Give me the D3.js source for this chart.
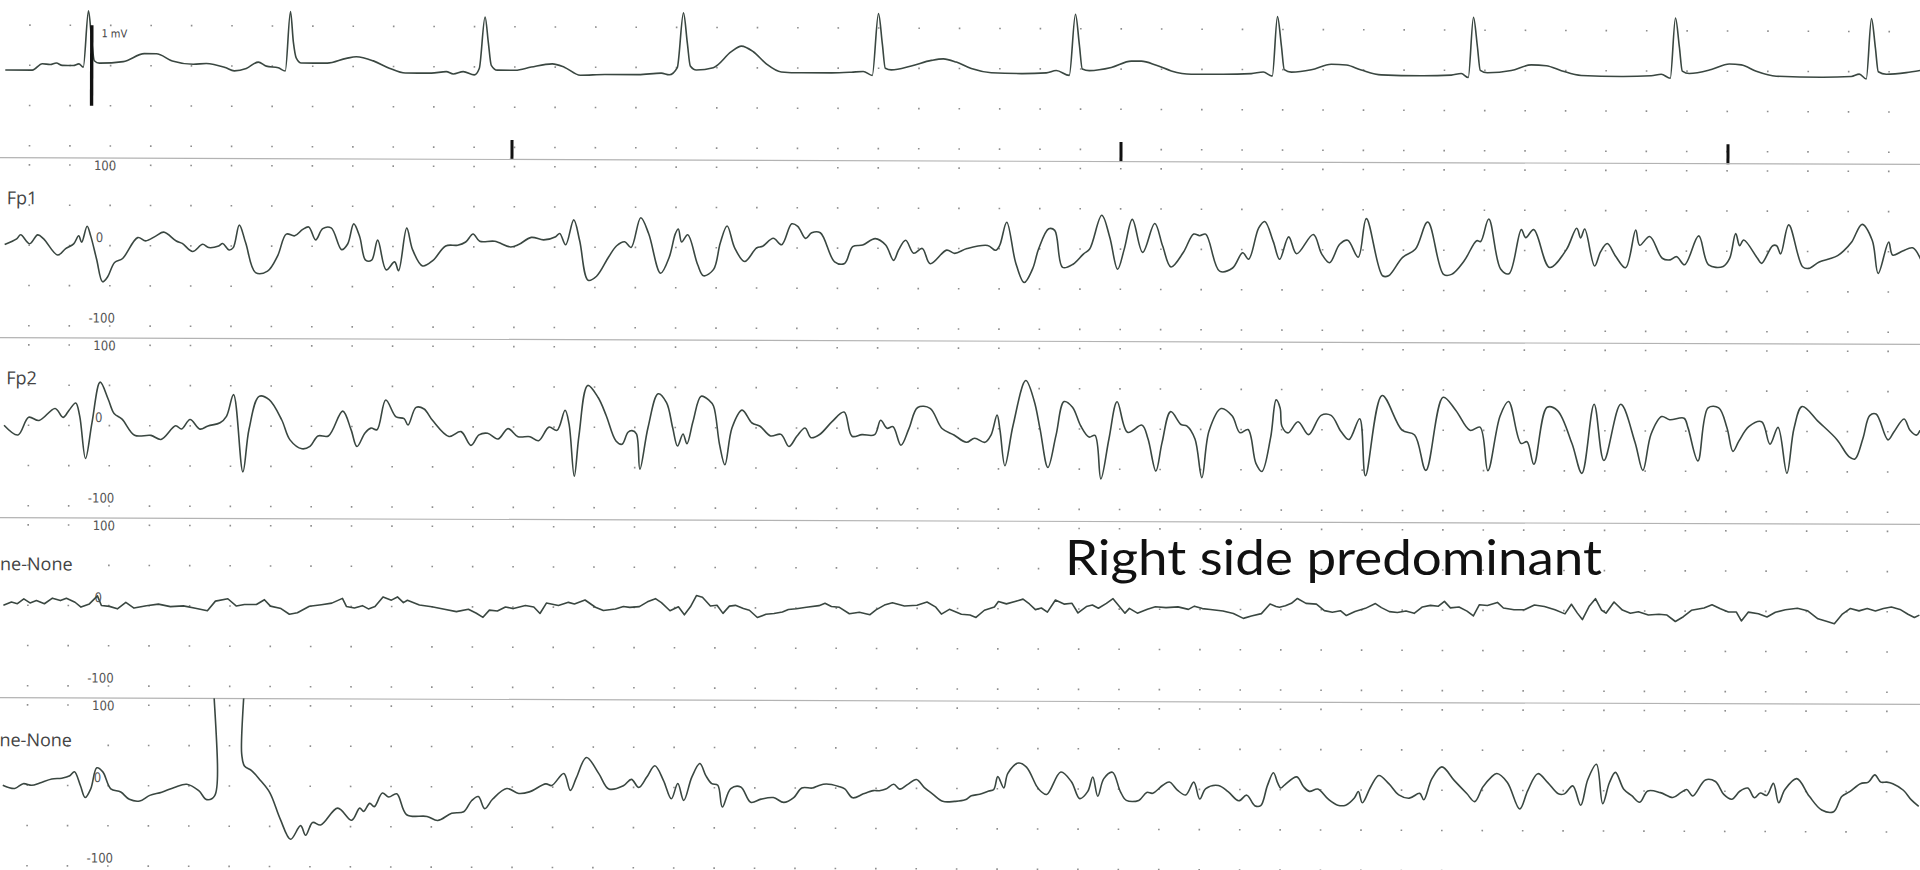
<!DOCTYPE html>
<html><head><meta charset="utf-8">
<script src="https://cdn.jsdelivr.net/npm/d3@7"></script>
<style>
html,body{margin:0;padding:0;background:#fff;overflow:hidden}
svg{display:block}
</style></head><body>
<svg id="chart" width="1920" height="870"></svg>
<script>
// ---- Recorded traces: [time in ms, amplitude] ----
// ECG in mV
const ecgTrace = [[20,-0.06],[155,-0.06],[205,0.02],[245,0.01],[275,0.03],[305,0.0],[360,0.0],[388,0.02],[410,-0.02],[435,0.68],[452,0.3],[465,0.06],[490,0.03],[610,0.05],[715,0.15],[775,0.15],[855,0.06],[960,0.02],[1025,0.03],[1120,-0.02],[1165,-0.06],[1225,-0.03],[1285,0.05],[1325,0.0],[1385,-0.02],[1420,-0.06],[1445,0.68],[1460,0.3],[1475,0.1],[1500,0.04],[1630,0.04],[1725,0.1],[1775,0.12],[1860,0.07],[1940,-0.02],[2020,-0.08],[2150,-0.08],[2225,-0.06],[2260,-0.09],[2310,-0.06],[2365,-0.1],[2390,-0.02],[2418,0.62],[2435,0.3],[2450,0.02],[2480,-0.04],[2570,-0.04],[2650,0.0],[2755,0.04],[2815,0.0],[2895,-0.1],[3020,-0.09],[3185,-0.09],[3300,-0.07],[3340,-0.09],[3380,0.0],[3410,0.68],[3430,0.3],[3445,0.02],[3475,-0.03],[3560,0.0],[3650,0.2],[3700,0.27],[3760,0.2],[3825,0.05],[3900,-0.05],[4000,-0.06],[4150,-0.06],[4250,-0.05],[4310,-0.04],[4355,-0.09],[4385,0.68],[4405,0.3],[4420,0.0],[4450,-0.02],[4550,0.03],[4650,0.1],[4710,0.12],[4775,0.08],[4850,0.0],[4950,-0.05],[5100,-0.06],[5225,-0.05],[5275,-0.02],[5340,-0.08],[5370,0.68],[5390,0.3],[5405,0.0],[5440,-0.02],[5550,0.02],[5650,0.1],[5700,0.1],[5775,0.05],[5850,-0.02],[5950,-0.06],[6100,-0.06],[6250,-0.05],[6310,-0.03],[6355,-0.08],[6380,0.66],[6400,0.3],[6415,0.0],[6450,-0.03],[6550,0.0],[6650,0.07],[6725,0.06],[6800,0.0],[6900,-0.06],[7100,-0.07],[7250,-0.06],[7300,-0.04],[7335,-0.09],[7360,0.66],[7380,0.3],[7395,0.0],[7430,-0.03],[7550,0.0],[7650,0.07],[7725,0.06],[7800,0.0],[7900,-0.06],[8100,-0.07],[8250,-0.06],[8300,-0.04],[8345,-0.09],[8370,0.66],[8390,0.3],[8405,0.0],[8440,-0.03],[8550,0.02],[8640,0.09],[8700,0.08],[8775,0.0],[8875,-0.06],[9100,-0.07],[9250,-0.06],[9290,-0.03],[9325,-0.09],[9350,0.66],[9370,0.3],[9385,0.0],[9425,-0.03],[9525,-0.01],[9600,0.02]];

// EEG channels in microvolts
const fp1Trace = [[20,1],[80,8],[100,13],[145,2],[185,13],[215,8],[285,-12],[325,-4],[365,2],[390,12],[405,4],[432,24],[450,12],[480,-17],[510,-45],[535,-39],[570,-21],[610,-16],[685,10],[725,6],[775,12],[815,17],[878,6],[908,3],[960,-7],[1010,2],[1040,-2],[1090,0],[1110,3],[1142,-5],[1163,-2],[1193,26],[1225,4],[1275,-33],[1335,-31],[1385,-12],[1428,15],[1470,13],[1510,21],[1540,24],[1575,8],[1610,22],[1652,23],[1705,-4],[1735,3],[1765,28],[1795,12],[1825,-17],[1855,-17],[1885,8],[1928,-29],[1970,-19],[1990,-30],[2030,23],[2060,-4],[2110,-24],[2162,-17],[2225,1],[2285,2],[2325,6],[2362,16],[2395,7],[2470,7],[2550,0],[2590,3],[2653,12],[2715,9],[2775,13],[2795,17],[2825,3],[2865,34],[2895,8],[2938,-41],[2980,-36],[3040,-12],[3080,2],[3120,7],[3152,0],[3200,37],[3240,17],[3300,-32],[3343,-12],[3373,17],[3388,23],[3405,7],[3435,16],[3485,-21],[3515,-35],[3565,-27],[3598,6],[3632,27],[3670,0],[3720,-17],[3780,0],[3810,2],[3863,12],[3905,4],[3955,30],[3985,27],[4025,12],[4055,19],[4098,19],[4170,-17],[4220,-19],[4260,2],[4310,4],[4373,12],[4425,4],[4465,-15],[4490,-2],[4525,10],[4565,-6],[4608,0],[4648,-19],[4730,-2],[4770,-6],[4832,0],[4935,4],[4975,-2],[4995,4],[5030,33],[5075,-17],[5118,-42],[5160,-25],[5190,0],[5240,25],[5270,23],[5310,-23],[5362,-19],[5415,-6],[5445,0],[5505,42],[5545,15],[5585,-25],[5618,0],[5658,37],[5710,-4],[5770,32],[5810,4],[5852,-22],[5913,-4],[5965,19],[5995,17],[6025,19],[6095,-27],[6160,-23],[6210,-4],[6240,-12],[6290,27],[6320,35],[6363,10],[6395,-12],[6440,16],[6480,-5],[6563,19],[6605,-5],[6645,-16],[6695,7],[6735,12],[6788,-9],[6828,39],[6910,-32],[6940,-32],[7010,-9],[7073,1],[7135,35],[7215,-30],[7255,-30],[7318,-13],[7380,12],[7400,11],[7440,39],[7500,-23],[7542,-29],[7603,26],[7625,16],[7665,26],[7745,-21],[7828,1],[7880,28],[7900,16],[7920,27],[7970,-19],[8000,-1],[8033,9],[8073,-6],[8125,-21],[8175,26],[8195,7],[8245,18],[8308,-9],[8348,-11],[8380,-7],[8420,-17],[8490,19],[8540,-17],[8613,-19],[8645,-9],[8675,22],[8695,7],[8715,14],[8785,-9],[8805,-15],[8860,7],[8880,7],[8900,-3],[8940,33],[9010,-19],[9040,-21],[9093,-13],[9145,-9],[9185,-5],[9215,1],[9255,12],[9307,34],[9358,14],[9388,-27],[9440,12],[9460,-4],[9510,1],[9560,5],[9600,-9]];

const fp2Trace = [[20,0],[90,-12],[143,10],[195,6],[275,21],[315,10],[345,19],[378,28],[398,12],[428,-41],[460,4],[500,54],[540,33],[570,15],[610,8],[673,-12],[755,-12],[805,-17],[878,0],[908,-4],[950,8],[1000,-4],[1040,0],[1100,4],[1132,12],[1167,39],[1215,-57],[1245,-4],[1295,37],[1345,33],[1408,8],[1450,-17],[1510,-28],[1550,-25],[1590,-12],[1642,-12],[1713,19],[1755,-4],[1785,-25],[1825,-8],[1855,-2],[1885,-4],[1928,33],[1980,12],[2020,10],[2040,2],[2080,24],[2120,22],[2162,8],[2245,-12],[2305,-6],[2355,-23],[2395,-10],[2438,-8],[2490,-15],[2540,-2],[2590,-12],[2650,-12],[2693,-17],[2745,0],[2785,-4],[2825,21],[2845,4],[2872,-61],[2895,-10],[2938,52],[2990,37],[3030,15],[3080,-17],[3110,-21],[3140,-6],[3160,-4],[3182,-8],[3200,-52],[3240,0],[3290,42],[3332,31],[3363,0],[3388,-23],[3415,-8],[3435,-20],[3465,8],[3505,39],[3545,34],[3567,27],[3598,-21],[3625,-46],[3660,0],[3710,22],[3760,6],[3800,2],[3853,-10],[3905,-8],[3945,-23],[3985,-10],[4025,0],[4055,-12],[4098,-8],[4160,8],[4220,20],[4260,-10],[4310,-8],[4373,-8],[4403,10],[4435,0],[4465,2],[4505,-21],[4545,0],[4588,26],[4650,25],[4710,0],[4770,-8],[4832,-17],[4873,-12],[4925,-17],[4955,-8],[4985,17],[5000,-2],[5025,-46],[5065,4],[5128,60],[5170,35],[5200,0],[5240,-48],[5280,-8],[5320,34],[5362,27],[5403,4],[5445,-10],[5475,-8],[5505,-62],[5545,-12],[5585,34],[5638,-4],[5710,5],[5740,-12],[5780,-52],[5810,-17],[5853,22],[5905,6],[5935,4],[5975,-12],[6010,-60],[6045,-2],[6105,26],[6160,17],[6200,-4],[6240,0],[6280,-42],[6310,-52],[6353,-10],[6380,37],[6400,27],[6410,4],[6440,-4],[6490,10],[6543,-6],[6605,18],[6655,18],[6705,-2],[6745,-12],[6798,14],[6828,-57],[6910,43],[7010,0],[7073,-6],[7130,-50],[7215,41],[7278,25],[7350,0],[7400,4],[7440,-50],[7500,18],[7542,36],[7605,-16],[7635,-14],[7670,-42],[7735,29],[7787,25],[7860,-16],[7910,-53],[7970,33],[8020,-37],[8103,33],[8175,-14],[8215,-49],[8255,-4],[8308,18],[8348,14],[8420,16],[8440,4],[8490,-37],[8540,29],[8593,29],[8635,4],[8665,-25],[8695,-12],[8745,6],[8808,12],[8850,-16],[8890,5],[8935,-52],[8970,4],[9010,31],[9093,12],[9185,-10],[9245,-31],[9275,-34],[9315,-8],[9348,20],[9380,22],[9440,-10],[9470,0],[9520,16],[9550,2],[9582,-4],[9600,2]];

const ch4Trace = [[20,0],[60,4],[90,2],[122,8],[153,3],[185,6],[225,2],[265,9],[305,6],[335,9],[378,4],[408,-2],[450,2],[490,12],[510,0],[550,-1],[590,-4],[632,4],[673,-3],[735,0],[795,2],[855,-1],[920,0],[980,-3],[1040,-6],[1080,6],[1142,9],[1185,0],[1225,2],[1285,2],[1325,8],[1355,0],[1408,-3],[1450,-10],[1490,-8],[1550,0],[1610,2],[1662,4],[1715,10],[1735,0],[1775,-2],[1815,1],[1845,-3],[1878,0],[1918,12],[1960,8],[1990,12],[2020,5],[2040,8],[2100,2],[2162,0],[2225,-3],[2285,-6],[2345,-3],[2385,-8],[2418,-13],[2450,-4],[2490,-5],[2530,0],[2570,-2],[2630,2],[2672,0],[2703,-8],[2735,5],[2795,2],[2845,6],[2875,4],[2928,9],[2980,0],[3020,-4],[3080,-2],[3120,1],[3152,0],[3200,1],[3240,7],[3280,11],[3310,6],[3353,-4],[3395,1],[3425,-9],[3455,1],[3485,15],[3515,13],[3555,2],[3588,3],[3618,-7],[3650,2],[3680,3],[3720,-1],[3750,-3],[3790,-12],[3833,-8],[3873,-7],[3915,-5],[3945,-2],[3985,-1],[4035,1],[4098,3],[4128,6],[4160,2],[4200,1],[4250,-7],[4300,-5],[4353,-8],[4383,-2],[4425,4],[4465,7],[4525,3],[4588,4],[4638,8],[4680,2],[4710,-7],[4750,-1],[4810,-7],[4853,-8],[4883,-11],[4925,-2],[4975,2],[4995,9],[5035,6],[5078,9],[5118,12],[5150,6],[5180,-1],[5210,1],[5240,-4],[5280,11],[5323,6],[5363,7],[5393,-5],[5435,3],[5465,5],[5495,1],[5535,7],[5568,13],[5598,4],[5628,-5],[5650,1],[5690,-5],[5740,0],[5780,3],[5833,2],[5893,3],[5945,0],[5975,4],[6015,1],[6055,0],[6118,-2],[6170,-5],[6220,-11],[6260,-8],[6310,-5],[6353,7],[6383,4],[6400,3],[6430,5],[6460,8],[6490,14],[6533,8],[6585,7],[6625,-1],[6665,-3],[6705,-1],[6735,-7],[6778,-2],[6830,2],[6880,8],[6910,3],[6950,-2],[6990,-3],[7033,-1],[7074,-4],[7115,4],[7155,6],[7195,5],[7225,11],[7255,3],[7298,4],[7338,-1],[7370,-7],[7400,7],[7440,6],[7490,10],[7520,3],[7573,1],[7625,1],[7675,7],[7725,5],[7778,1],[7828,-4],[7860,8],[7890,-3],[7915,-11],[7950,6],[7980,15],[8010,1],[8033,-3],[8073,11],[8115,1],[8155,-3],[8195,-1],[8245,-5],[8298,-4],[8338,-5],[8380,-13],[8420,-7],[8460,1],[8523,4],[8563,8],[8605,3],[8645,-1],[8685,-1],[8710,-12],[8745,-1],[8795,-3],[8838,-7],[8880,-1],[8930,2],[8990,4],[9040,1],[9093,-9],[9135,-12],[9175,-15],[9215,-3],[9255,4],[9298,1],[9339,4],[9380,1],[9420,4],[9460,6],[9503,3],[9543,-3],[9575,-7],[9600,-4]];

const ch5Trace = [[20,0],[80,-4],[122,2],[165,0],[205,3],[265,8],[315,9],[355,12],[378,17],[408,0],[432,-15],[460,-4],[490,22],[520,17],[560,-4],[610,-8],[653,-17],[705,-19],[755,-12],[815,-8],[878,-2],[940,2],[1000,-6],[1040,-17],[1080,-12],[1092,240],[1202,240],[1214,40],[1228,25],[1265,19],[1305,8],[1355,-8],[1408,-41],[1460,-66],[1510,-49],[1535,-61],[1570,-45],[1610,-48],[1695,-27],[1765,-42],[1805,-27],[1825,-31],[1855,-21],[1878,-25],[1918,-8],[1950,-13],[1990,-9],[2040,-35],[2142,-37],[2195,-42],[2265,-33],[2325,-31],[2365,-17],[2398,-12],[2430,-27],[2470,-15],[2540,-2],[2600,-8],[2653,-6],[2735,4],[2765,2],[2825,17],[2858,-4],[2888,12],[2938,37],[3000,17],[3050,-2],[3123,2],[3163,10],[3200,0],[3240,13],[3280,27],[3323,9],[3363,-14],[3395,5],[3425,-16],[3465,13],[3505,30],[3535,15],[3565,5],[3595,3],[3618,-24],[3660,-1],[3710,1],[3760,-18],[3812,-14],[3873,-12],[3925,-18],[3975,-12],[4015,0],[4068,0],[4098,3],[4138,5],[4200,2],[4230,-1],[4270,-12],[4323,-7],[4373,-3],[4403,-3],[4435,-1],[4475,5],[4505,-1],[4545,5],[4588,11],[4628,1],[4670,-7],[4720,-16],[4780,-16],[4832,-14],[4863,-9],[4905,-7],[4950,-3],[4975,-1],[4995,15],[5025,1],[5045,19],[5098,32],[5138,27],[5190,3],[5210,-3],[5240,-7],[5310,21],[5363,9],[5405,-12],[5445,-3],[5470,15],[5495,-9],[5525,13],[5568,21],[5608,-3],[5638,-14],[5700,-14],[5740,-4],[5770,-5],[5820,5],[5853,9],[5893,-1],[5935,-7],[5975,9],[6005,-12],[6035,1],[6098,5],[6148,-3],[6200,-14],[6240,-7],[6280,-20],[6310,-20],[6343,5],[6373,21],[6395,8],[6410,2],[6430,6],[6490,16],[6523,4],[6553,-2],[6595,1],[6645,-11],[6695,-19],[6735,-19],[6778,-10],[6798,-2],[6818,-16],[6860,4],[6900,18],[6950,8],[7000,-6],[7053,-10],[7105,-4],[7125,-12],[7165,14],[7215,29],[7278,12],[7340,-4],[7380,-14],[7420,4],[7460,16],[7490,21],[7543,10],[7605,-23],[7645,0],[7695,21],[7745,10],[7798,-4],[7828,-4],[7870,6],[7910,-18],[7945,14],[7988,33],[8020,-16],[8053,10],[8083,23],[8125,2],[8165,-6],[8205,-14],[8245,0],[8308,-2],[8370,-8],[8410,-2],[8440,2],[8470,-6],[8533,14],[8583,12],[8625,-4],[8665,-10],[8705,0],[8745,4],[8778,-8],[8808,-2],[8840,-5],[8873,10],[8900,-14],[8930,2],[8990,16],[9053,-6],[9115,-23],[9175,-25],[9215,-6],[9255,0],[9308,10],[9348,12],[9380,21],[9410,12],[9440,12],[9470,10],[9523,2],[9563,-10],[9600,-18]];

// Channel labels and scale annotations
const channelNames = ["", "Fp1", "Fp2", "ne-None", "ne-None"];
const scaleTicks = [100, 0, -100];
const markerTimes = [2555, 5600, 8635];
const calibrationMv = [0.5, -0.5];
const note = "Right side predominant";

// ---- Layout ----
const W = 1920, H = 870;
const trackTops = [-24.8, 155.2, 335.2, 515.2, 695.2];
const nameOffsets = [0, 49, 49, 55, 51];
const trackH = 180, halfSpan = 80.4;
const traceColor = "#3a4741";
const tickFont = "'Liberation Sans Narrow','DejaVu Sans Condensed','Liberation Sans',Arial,sans-serif";
const nameFont = "'Open Sans','Noto Sans',sans-serif";

const svg = d3.select("#chart");
svg.append("rect").attr("width", W).attr("height", H).attr("fill", "#fff");

const x = d3.scaleLinear().domain([0, 9600]).range([0, W]);
const page = svg.append("g").attr("transform", "rotate(0.2,0,435)");

const tracks = [
  {data: ecgTrace, domain: [-1, 1], curve: d3.curveMonotoneX},
  {data: fp1Trace, domain: [-100, 100], curve: d3.curveCatmullRom.alpha(0.5)},
  {data: fp2Trace, domain: [-100, 100], curve: d3.curveCatmullRom.alpha(0.5)},
  {data: ch4Trace, domain: [-100, 100], curve: d3.curveLinear},
  {data: ch5Trace, domain: [-100, 100], curve: d3.curveCatmullRom.alpha(0.5)}
];

const gridMs = d3.range(142.5, 9600, 202.1);

tracks.forEach((tr, i) => {
  const top = trackTops[i];
  const zero = top + 90;
  const y = d3.scaleLinear().domain(tr.domain).range([zero + halfSpan, zero - halfSpan]);
  const g = page.append("g");

  // separator line at the top of each track
  if (i > 0) {
    g.append("line").attr("x1", -10).attr("x2", W + 10)
      .attr("y1", top + 2.5).attr("y2", top + 2.5)
      .attr("stroke", "#b3b3b3").attr("stroke-width", 1.2);
  }

  // dotted grid
  const rows = y.ticks(4);
  const dots = [];
  rows.forEach(v => gridMs.forEach(t => dots.push([t, v])));
  g.append("g").selectAll("rect").data(dots).join("rect")
    .attr("x", d => x(d[0]) - 0.8).attr("y", d => y(d[1]) - 0.8)
    .attr("width", 1.6).attr("height", 1.6).attr("fill", "#8d8d8d");

  // scale annotations (EEG tracks)
  if (i > 0) {
    const ann = g.append("g").attr("font-family", tickFont).attr("font-size", 13).attr("fill", "#555");
    scaleTicks.forEach(v => {
      ann.append("text")
        .attr("x", v < 0 ? 88 : (v === 0 ? 95 : 93))
        .attr("y", v > 0 ? y(v) + 5 : y(v) - 3.5)
        .text(v);
    });
    const nm = channelNames[i];
    const label = g.append("text").attr("y", top + nameOffsets[i])
      .attr("font-family", nameFont).attr("font-size", 18)
      .attr("fill", "#444").text(nm);
    if (nm.startsWith("Fp")) label.attr("x", 6);
    else label.attr("x", 73).attr("text-anchor", "end");
  }

  // trace
  const clipId = "clip" + i;
  g.append("clipPath").attr("id", clipId).append("rect")
    .attr("x", -20).attr("y", top + 2.5).attr("width", W + 40).attr("height", trackH);
  const line = d3.line().x(d => x(d[0])).y(d => y(d[1])).curve(tr.curve);
  g.append("path").datum(tr.data)
    .attr("clip-path", i === 0 ? null : `url(#${clipId})`)
    .attr("d", line).attr("fill", "none")
    .attr("stroke", traceColor).attr("stroke-width", 1.6)
    .attr("stroke-linejoin", "round");

  if (i === 0) {
    // 1 mV calibration bar
    g.append("rect").attr("x", x(452) - 1.7).attr("width", 3.4)
      .attr("y", y(calibrationMv[0])).attr("height", y(calibrationMv[1]) - y(calibrationMv[0]))
      .attr("fill", "#111");
    g.append("text").attr("x", 100).attr("y", 37)
      .attr("font-family", tickFont).attr("font-size", 11).attr("fill", "#444").text("1 mV");
    // time markers on the ECG baseline
    g.append("g").selectAll("rect").data(markerTimes).join("rect")
      .attr("x", d => x(d) - 1.5).attr("width", 3)
      .attr("y", trackTops[1] - 17).attr("height", 20).attr("fill", "#111");
  }
});

// annotation overlay
svg.append("text").attr("x", 1065).attr("y", 575)
  .attr("font-family", "Lato,'Open Sans',sans-serif").attr("font-weight", 400).attr("font-size", 48)
  .attr("textLength", 537).attr("lengthAdjust", "spacingAndGlyphs")
  .attr("fill", "#111").text(note);
</script></body></html>
